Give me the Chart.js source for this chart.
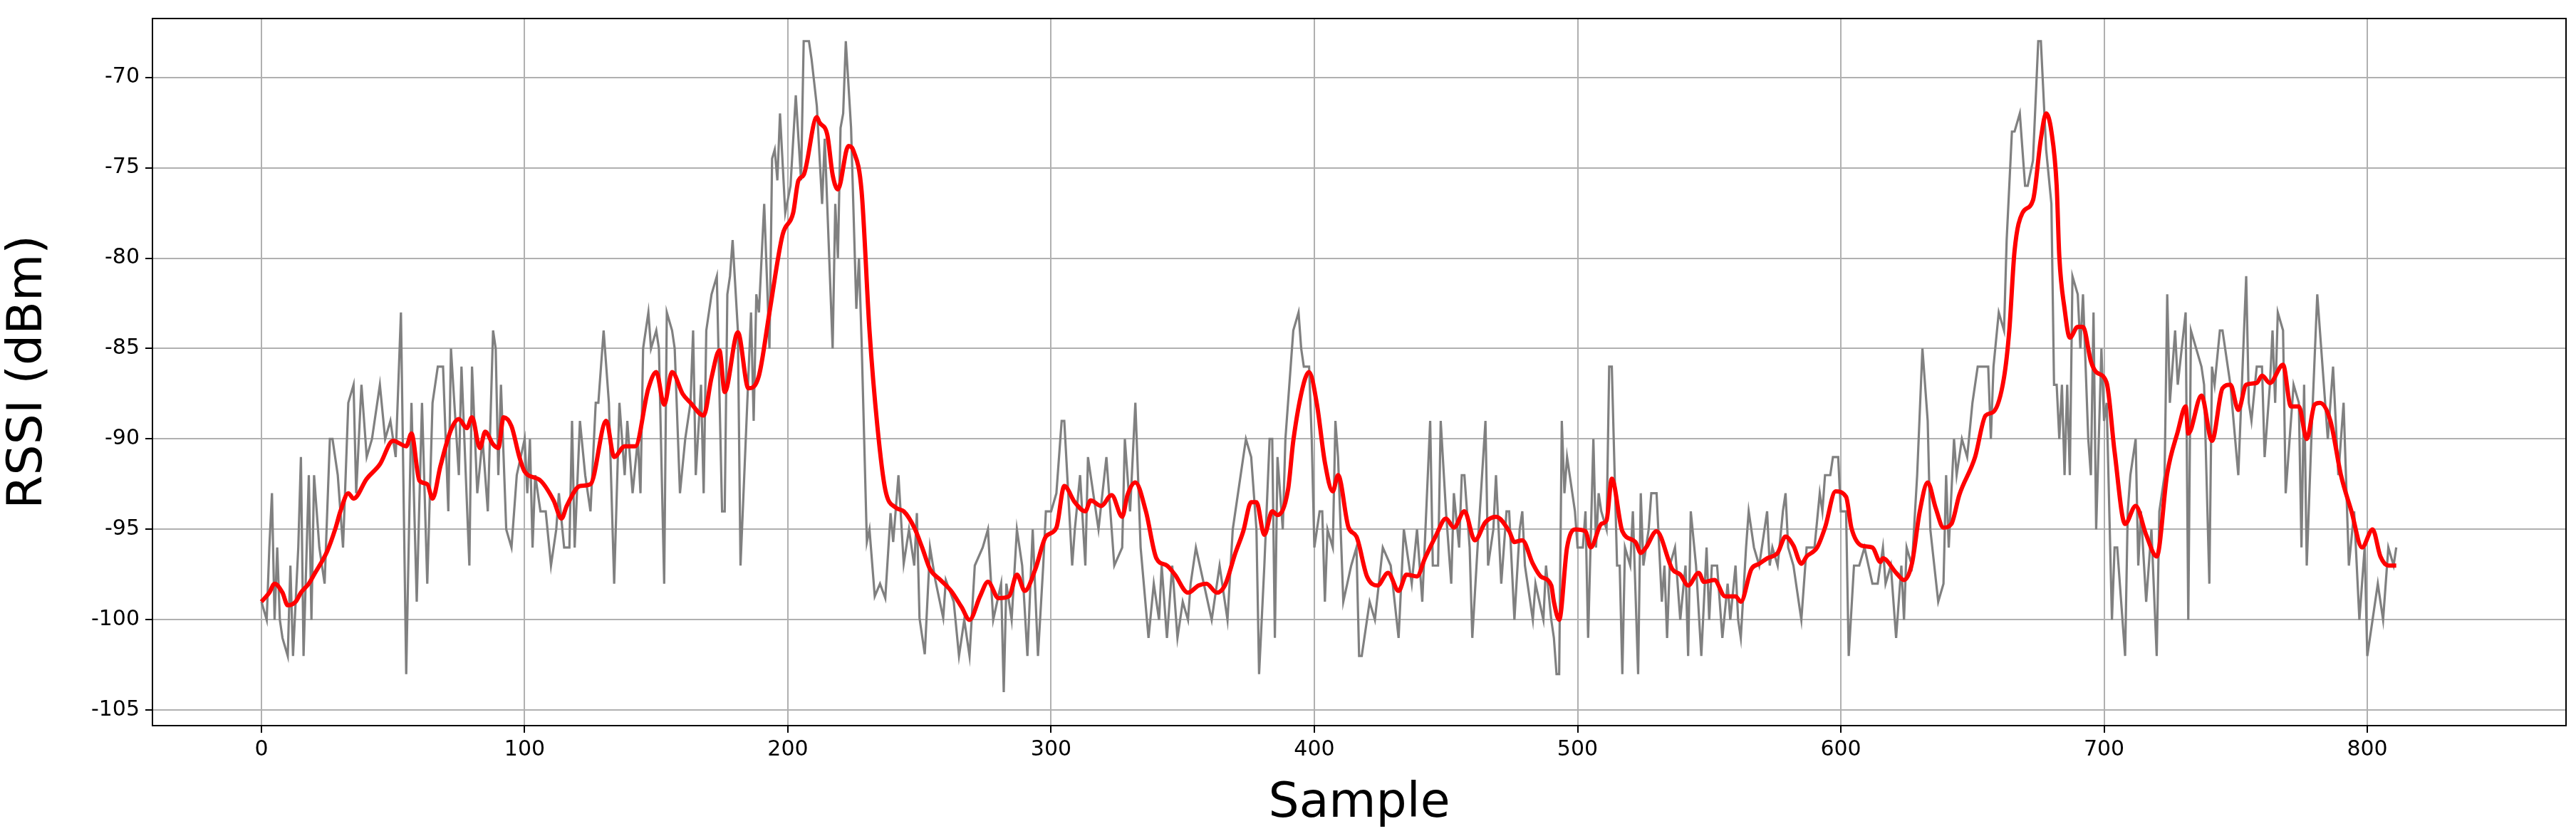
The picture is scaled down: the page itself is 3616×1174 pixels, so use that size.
<!DOCTYPE html>
<html>
<head>
<meta charset="utf-8">
<script src="https://cdn.jsdelivr.net/npm/chart.js@4/dist/chart.umd.min.js"></script>
<style>
  html, body { margin: 0; padding: 0; background: #fff; }
  #wrap { width: 3616px; height: 1174px; }
</style>
</head>
<body>
<div id="wrap"><canvas id="cRssi" width="3616" height="1174"></canvas></div>
<script>
// raw RSSI samples (sample index, dBm)
const rawX = [0,2,3,4,5,6,7,8,10,11,12,14,15,16,18,19,20,22,24,26,27,29,31,33,35,36,38,40,42,45,47,49,51,53,55,57,59,61,63,65,67,69,71,72,75,76,79,80,82,84,86,88,89,90,91,93,95,97,
  100,101,102,103,104,106,108,110,112,113,115,117,118,119,121,123,125,127,128,130,132,134,136,138,139,141,143,144,145,147,148,150,151,153,154,156,157,159,161,163,164,165,167,168,169,171,173,175,176,177,178,179,181,182,184,186,187,188,189,191,193,194,
  195,196,197,199,201,203,205,206,208,209,211,213,214,217,218,219,220,221,222,224,226,227,228,230,231,233,235,237,239,240,242,244,246,248,249,250,252,254,256,259,260,263,265,267,269,271,274,276,278,281,282,283,285,287,289,291,293,295,297,
  298,300,302,304,305,308,309,311,313,314,316,318,321,324,327,328,330,332,334,337,339,341,342,344,346,348,350,352,353,355,358,361,364,367,369,372,374,376,378,379,381,383,384,385,386,388,389,391,392,
  394,395,396,398,399,400,402,403,404,405,407,408,409,411,414,416,417,418,421,423,426,429,432,434,437,439,441,444,445,447,448,450,452,453,455,456,457,459,460,462,465,466,468,469,471,473,474,476,478,479,480,483,484,487,488,490,
  491,492,493,494,495,496,499,500,502,503,504,506,507,508,509,511,512,513,515,516,517,518,520,521,523,524,525,527,528,530,532,533,534,535,537,539,541,542,543,545,547,549,550,551,553,555,557,558,560,561,562,564,565,567,569,572,573,574,576,578,579,580,582,585,587,
  590,592,593,594,596,597,599,600,602,603,605,607,609,612,614,616,617,619,621,623,624,625,627,629,631,633,634,637,639,640,641,643,644,646,648,650,652,654,656,657,658,660,662,663,665,666,668,670,671,673,675,676,
  678,680,681,682,683,684,685,686,687,688,690,691,692,694,695,696,697,699,700,701,703,704,705,708,709,710,712,713,714,716,718,720,721,723,724,725,727,728,731,732,733,737,738,740,741,742,744,745,748,751,754,755,756,758,760,761,763,764,765,766,768,769,770,772,774,775,776,777,779,781,782,
  785,787,789,791,793,795,797,799,800,802,804,806,808,810,811];
const rawRssi = [-99,-100,-96,-93,-100,-96,-100,-101,-102,-97,-102,-96,-91,-102,-92,-100,-92,-96,-98,-90,-90,-92,-96,-88,-87,-93,-87,-91,-90,-87,-90,-89,-91,-83,-103,-88,-99,-88,-98,-88,-86,-86,-94,-85,-92,-86,-97,-86,-93,-90,-94,-84,-85,-92,-87,-95,-96,-92,
  -90,-93,-90,-96,-92,-94,-94,-97,-95,-93,-96,-96,-89,-96,-89,-92,-94,-88,-88,-84,-88,-98,-88,-92,-89,-93,-90,-93,-85,-83,-85,-84,-85,-98,-83,-84,-85,-93,-90,-88,-84,-92,-87,-93,-84,-82,-81,-94,-94,-82,-81,-79,-84,-97,-90,-83,-89,-82,-83,-77,-85,-74.5,
  -74,-75.7,-72,-77.5,-76,-71,-75.7,-68,-68,-69,-71.6,-77,-73.4,-85,-77,-80,-72.8,-72,-68,-72.8,-82.8,-80,-84.6,-95.7,-95,-98.7,-98,-98.8,-94.1,-95.7,-92,-96.9,-95,-97,-94.1,-99.9,-101.9,-96,-97.8,-99.9,-97.8,-99,-102,-100,-102,-97,-96,-95,-100,-98,-104,-98,-100,-95,-97,-102,-95,-102,-97,
  -94,-94,-93,-89,-89,-97,-95,-92,-97,-91,-93,-95,-91,-97,-96,-90,-94,-88,-96,-101,-98,-100,-97,-101,-97,-101,-99,-100,-98,-96,-98,-100,-97,-100,-95,-92,-90,-91,-95,-103,-97,-90,-90,-101,-91,-95,-90,-86,-84,
  -83,-85,-86,-86,-90,-96,-94,-94,-99,-95,-96,-89,-91,-99,-97,-96,-102,-102,-99,-100,-96,-97,-101,-95,-98,-95,-99,-89,-97,-97,-89,-94,-98,-93,-96,-92,-92,-96,-101,-96,-89,-97,-95,-92,-98,-94,-94,-100,-95,-94,-97,-100,-98,-100,-97,-100,
  -101,-103,-103,-89,-93,-91,-94,-96,-96,-94,-101,-90,-96,-93,-94,-95,-86,-86,-97,-97,-103,-96,-97,-94,-103,-93,-97,-95,-93,-93,-99,-97,-101,-97,-96,-100,-97,-102,-94,-97,-102,-96,-100,-97,-97,-101,-98,-100,-97,-100,-101,-96,-94,-96,-97,-94,-97,-96,-97,-94,-93,-96,-97,-100,-96,
  -96,-93,-94,-92,-92,-91,-91,-94,-94,-102,-97,-97,-96,-98,-98,-96,-98,-97,-101,-97,-100,-96,-97,-92,-85,-89,-95,-99,-98,-92,-96,-90,-92,-90,-91,-88,-86,-86,-86,-90,-86,-83,-84,-79,-73,-73,-72,-76,-76,-74.6,-68,-68,
  -74,-77,-87,-87,-90,-87,-92,-87,-92,-81,-82,-85,-82,-90,-92,-83,-95,-85,-89,-88,-100,-96,-96,-102,-94,-92,-90,-97,-94,-99,-95,-102,-94,-92,-82,-88,-84,-87,-83,-100,-84,-86,-87,-98,-86,-87,-84,-84,-87,-92,-81,-88,-89,-86,-86,-91,-87,-84,-88,-83,-84,-93,-91,-87,-88,-96,-87,-97,-89,-82,-84,
  -90,-86,-92,-88,-97,-94,-100,-96,-102,-100,-98,-100,-96,-97,-96];

// smoothed RSSI (sample index, dBm)
const smoothX = [0,3,5,8,10,13,15,18,20,25,28,30,33,35,40,45,50,55,57,60,63,65,68,72,75,78,80,83,85,88,90,92,95,98,
  100,106,111,114,116,121,125,131,134,138,142,147,150,153,156,160,163,168,171,174,176,181,185,189,
  193,198,202,204,206,211,212,215,217,219,223,225,228,231,234,237,241,244,248,251,254,258,262,266,269,273,276,280,284,287,290,
  294,298,302,305,309,313,315,319,323,327,329,332,336,340,344,347,352,356,359,363,366,370,373,376,378,381,384,386,390,392,
  396,398,401,404,407,409,413,416,420,424,428,432,435,439,442,446,450,453,457,461,465,469,474,476,479,483,486,490,
  491,493,496,499,503,505,509,511,513,517,522,524,526,530,536,539,542,546,548,552,556,560,562,566,569,572,576,579,582,585,
  587,591,594,598,602,604,608,612,615,616,621,624,627,630,633,636,639,642,645,651,655,658,662,664,666,669,673,676,678,680,682,
  683,685,687,690,692,695,697,701,704,708,712,716,720,724,728,731,732,737,741,745,748,751,754,758,760,763,768,771,774,777,780,782,
  786,790,794,798,802,805,808,811];
const smoothRssi = [-99,-98.5,-98,-98.5,-99.2,-99,-98.5,-98,-97.5,-96.2,-95,-94,-93,-93.3,-92.2,-91.4,-90.1,-90.4,-89.7,-92.3,-92.5,-93.3,-91.5,-89.5,-88.9,-89.4,-88.8,-90.5,-89.6,-90.3,-90.5,-88.8,-89.3,-91,
  -91.8,-92.3,-93.4,-94.4,-93.7,-92.6,-92.5,-89,-91,-90.4,-90.4,-87.2,-86.3,-88.1,-86.3,-87.5,-88,-88.7,-86.6,-85.1,-87.4,-84.1,-87.2,-86.5,
  -83,-78.7,-77.5,-75.7,-75.4,-72.2,-72.5,-73.2,-75.4,-76.2,-73.8,-74.1,-76.3,-84,-89.3,-92.8,-93.8,-94,-94.9,-96,-97.2,-97.8,-98.4,-99.3,-100,-98.7,-97.9,-98.8,-98.7,-97.5,-98.4,
  -97.2,-95.4,-94.9,-92.6,-93.5,-94,-93.4,-93.7,-93.1,-94.3,-93.1,-92.4,-94,-96.6,-97,-97.5,-98.5,-98.1,-98,-98.5,-98.1,-96.3,-95.1,-93.5,-93.5,-95.3,-94,-94.2,-92.8,-90.1,
  -86.9,-86.3,-88.1,-91.3,-92.9,-92,-94.9,-95.4,-97.6,-98.1,-97.4,-98.4,-97.5,-97.6,-96.6,-95.4,-94.4,-94.9,-94,-95.6,-94.6,-94.3,-95.1,-95.7,-95.6,-96.9,-97.6,-98.1,
  -99,-100,-96,-95,-95.1,-96,-94.7,-94.5,-92.2,-95.1,-95.7,-96.3,-96,-95.1,-97.2,-97.5,-98.1,-97.4,-97.9,-97.8,-98.7,-98.7,-99,-97.2,-96.9,-96.6,-96.3,-95.4,-95.9,-96.9,
  -96.5,-96,-94.9,-92.9,-93.2,-94.9,-95.9,-96,-96.8,-96.6,-97.4,-97.8,-96.9,-94,-92.4,-93.8,-94.9,-94.7,-93.1,-91,-88.7,-88.5,-86.6,-84,-79.6,-77.5,-76.8,-73.4,-72,-73,-76,
  -79.9,-82.8,-84.4,-83.8,-83.8,-85.7,-86.3,-86.9,-90.7,-94.7,-93.7,-95.3,-96.5,-91.9,-89.6,-88.2,-89.7,-87.6,-90.1,-87.2,-87,-88.4,-87,-86.9,-86.5,-86.9,-85.9,-88.2,-88.2,-90,-88.1,-88,
  -89,-92,-94,-96,-95,-96.5,-97,-97];

const xTicks = [0,100,200,300,400,500,600,700,800];
const yTicks = [-105,-100,-95,-90,-85,-80,-75,-70];

const toPoints = (xs, ys) => xs.map((x, i) => ({x: x, y: ys[i]}));

const framePlugin = {
  id: 'frame',
  afterDraw(chart) {
    const a = chart.chartArea, ctx = chart.ctx;
    ctx.save();
    ctx.strokeStyle = '#000';
    ctx.lineWidth = 2;
    ctx.strokeRect(a.left, a.top, a.right - a.left, a.bottom - a.top);
    ctx.restore();
  }
};

new Chart(document.getElementById('cRssi'), {
  type: 'line',
  data: {
    datasets: [
      {
        data: toPoints(rawX, rawRssi),
        borderColor: 'rgb(128,128,128)',
        borderWidth: 3.2,
        pointRadius: 0,
        tension: 0,
        order: 2
      },
      {
        data: toPoints(smoothX, smoothRssi),
        borderColor: '#ff0000',
        borderWidth: 6,
        pointRadius: 0,
        cubicInterpolationMode: 'monotone',
        order: 1
      }
    ]
  },
  options: {
    responsive: false,
    devicePixelRatio: 1,
    animation: false,
    events: [],
    layout: { autoPadding: false, padding: { top: 12, right: 14, left: 0, bottom: 0 } },
    plugins: { legend: { display: false }, tooltip: { enabled: false } },
    scales: {
      x: {
        type: 'linear',
        min: -41.4,
        max: 875.5,
        afterBuildTicks: (s) => { s.ticks = xTicks.map(v => ({value: v})); },
        afterFit: (s) => { s.height = 155; },
        grid: { color: '#b0b0b0', lineWidth: 2, tickColor: '#000', tickLength: 10 },
        border: { display: false },
        ticks: { color: '#000', font: { family: 'DejaVu Sans', size: 30 }, padding: 6, maxRotation: 0 },
        title: { display: true, text: 'Sample', color: '#000', font: { family: 'DejaVu Sans', size: 68 }, padding: { top: 4 } }
      },
      y: {
        min: -105.85,
        max: -66.75,
        afterBuildTicks: (s) => { s.ticks = yTicks.map(v => ({value: v})); },
        afterFit: (s) => { s.width = 214; },
        grid: { color: '#b0b0b0', lineWidth: 2, tickColor: '#000', tickLength: 10 },
        border: { display: false },
        ticks: { color: '#000', font: { family: 'DejaVu Sans', size: 30 }, padding: 8 },
        title: { display: true, text: 'RSSI (dBm)', color: '#000', font: { family: 'DejaVu Sans', size: 68 }, padding: { top: 0, bottom: 14 } }
      }
    }
  },
  plugins: [framePlugin]
});
</script>
</body>
</html>
